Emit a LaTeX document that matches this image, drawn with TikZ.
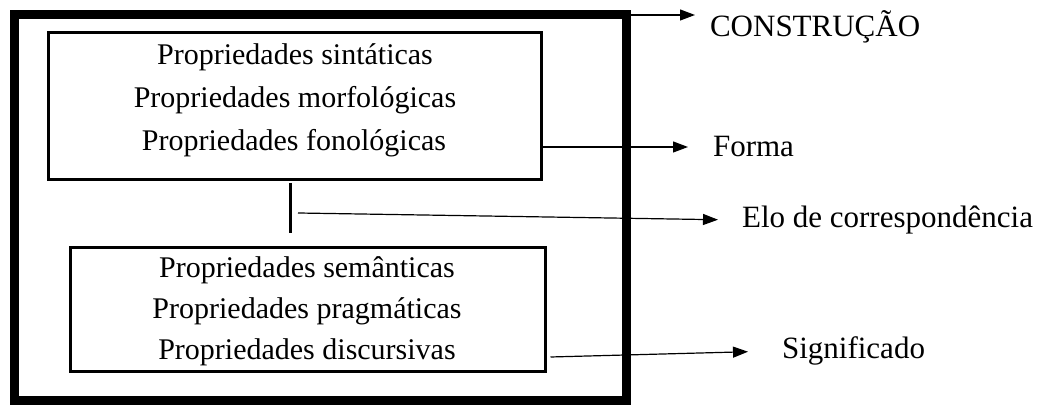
\documentclass[tikz,border=0pt]{standalone}
\usepackage{fontspec}
\setmainfont{Liberation Serif}
\usetikzlibrary{arrows.meta, positioning}

\begin{document}
\begin{tikzpicture}[x=0.5pt, y=-0.5pt,
  caixa/.style={draw, line width=1.5pt, inner sep=0pt},
  seta/.style={-{Triangle[length=7.5pt, width=5.5pt]}, line width=0.6pt},
  texto/.style={font=\fontsize{15}{18}\selectfont},
  rotulo/.style={font=\fontsize{15.5}{18}\selectfont, anchor=west}]
\useasboundingbox (0,0) rectangle (1041,405);

\node[draw, line width=4.5pt, minimum width=306pt, minimum height=193pt] (construcao) at (320,208) {};
\node[caixa, minimum width=246.5pt, minimum height=73.5pt] (forma) at (294.5,106.5) {};
\node[caixa, minimum width=237.5pt, minimum height=62pt] (signif) at (307.5,310) {};

\node[texto] (sint) at (295,57) {Propriedades sintáticas};
\node[texto] (morf) at (295,100) {Propriedades morfológicas};
\node[texto] (fono) at (294,143) {Propriedades fonológicas};

\node[texto] (sem) at (307,270) {Propriedades semânticas};
\node[texto] (prag) at (307,311) {Propriedades pragmáticas};
\node[texto] (disc) at (307,352) {Propriedades discursivas};

\node[rotulo] (cons_lbl) at (703,27) {CONSTRUÇÃO};
\node[rotulo] (forma_lbl) at (706,147) {Forma};
\node[rotulo] (elo_lbl) at (735,220) {Elo de correspondência};
\node[rotulo] (signif_lbl) at (775,351) {Significado};

% elo entre forma e significado
\coordinate (elo_a) at (290,183);
\coordinate (elo_b) at (290,233);
\coordinate (elo_ini) at (298,213);
\draw[line width=1.5pt] (elo_a) -- (elo_b);

\draw[seta, shorten >=4pt] ([yshift=-2.25pt]construcao.north east) -- ([yshift=6pt]cons_lbl.west);
\draw[seta, shorten >=9pt] (forma.east |- forma_lbl.west) -- (forma_lbl.west);
\draw[seta, shorten >=8.5pt] (elo_ini) -- (elo_lbl.west);
\draw[seta, shorten >=13.5pt] ([xshift=2pt, yshift=-23.5pt]signif.east) -- (signif_lbl.west);

\end{tikzpicture}
\end{document}
